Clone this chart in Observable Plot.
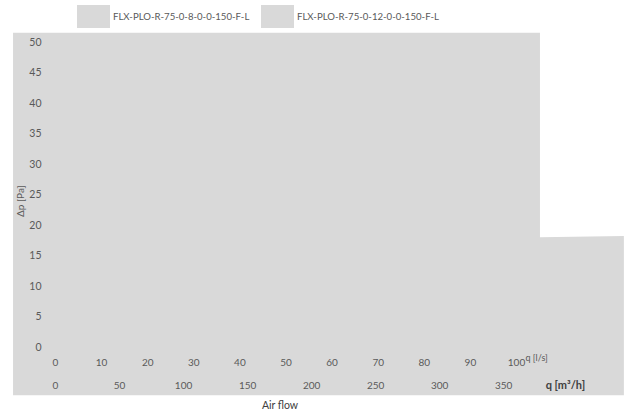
<!DOCTYPE html>
<html>
<head>
<meta charset="utf-8">
<script src="https://cdn.jsdelivr.net/npm/d3@7"></script>
<script src="https://cdn.jsdelivr.net/npm/@observablehq/plot@0.6"></script>
<style>
  html, body { margin: 0; padding: 0; background: #fff; }
  body { width: 624px; height: 417px; overflow: hidden; font-family: Lato, "Open Sans", sans-serif; }
  #legend { position: relative; height: 30px; width: 624px; }
  .item { position: absolute; top: 5px; height: 23px; display: flex; align-items: center; }
  .sw { width: 33px; height: 23px; background: #d9d9d9; }
  .lb { font-size: 9.6px; color: #595959; margin-left: 3px; white-space: nowrap; }
  #chart svg { display: block; }
</style>
</head>
<body>
<div id="legend"></div>
<div id="chart"></div>
<script>
// Series names (legend)
const seriesNames = ["FLX-PLO-R-75-0-8-0-0-150-F-L", "FLX-PLO-R-75-0-12-0-0-150-F-L"];
// Filled grey area as drawn in the reference (x in l/s, y in Pa)
const areaX = [-9.1, 105.2, 105.2, 123.4];
const areaTop = [51.5, 51.5, 18.0, 18.2];
const areaBase = [-7.9, -7.9, -7.9, -7.9];
// Tick labels
const yTicks = [0, 5, 10, 15, 20, 25, 30, 35, 40, 45, 50];
const xTicksLs = [0, 10, 20, 30, 40, 50, 60, 70, 80, 90, 100];
const xTicksM3h = [0, 50, 100, 150, 200, 250, 300, 350];
const xUnitLs = "q [l/s]";
const xUnitM3h = "q [m³/h]";
const xTitle = "Air flow";
const yTitle = "Δp [Pa]";

// Legend
const legendPos = [77, 261];
const legend = document.getElementById("legend");
seriesNames.forEach((name, i) => {
  const it = document.createElement("div");
  it.className = "item";
  it.style.left = legendPos[i] + "px";
  it.innerHTML = `<div class="sw"></div><div class="lb"></div>`;
  it.querySelector(".lb").textContent = name;
  legend.appendChild(it);
});

const areaData = areaX.map((x, i) => ({x, top: areaTop[i], base: areaBase[i]}));
const txt = "#595959";
const fs = 10;

const chart = Plot.plot({
  width: 624,
  height: 387,
  marginLeft: 41,
  marginBottom: 55,
  marginTop: 0,
  marginRight: 0,
  style: {fontFamily: "Lato, 'Open Sans', sans-serif", background: "transparent"},
  x: {domain: [0, 100], range: [55, 516], axis: null},
  y: {domain: [0, 50], range: [317, 12], axis: null},
  marks: [
    Plot.areaY(areaData, {x: "x", y1: "base", y2: "top", fill: "#d9d9d9", curve: "linear"}),
    Plot.axisY(yTicks, {anchor: "left", tickSize: 0, tickPadding: 0, fontSize: 10.5, color: txt}),
    Plot.text(xTicksLs, {x: d => d, frameAnchor: "bottom", text: d => String(d), fontSize: fs, fill: txt, lineAnchor: "middle"}),
    Plot.text([xUnitLs], {x: [100], frameAnchor: "bottom", dx: 9, dy: -4, textAnchor: "start", fontSize: 9, fill: txt, lineAnchor: "middle"}),
    Plot.text(xTicksM3h, {x: d => d / 3.6, frameAnchor: "bottom", dy: 23, text: d => String(d), fontSize: fs, fill: txt, lineAnchor: "middle"}),
    Plot.text([xUnitM3h], {x: [350 / 3.6], frameAnchor: "bottom", dx: 42, dy: 23, text: d => d, fontSize: 11, fontWeight: "bold", fill: "#404040", textAnchor: "start", lineAnchor: "middle"}),
    Plot.text([xTitle], {x: [48.7], frameAnchor: "bottom", dy: 43, text: d => d, fontSize: 10.5, fill: "#404040", lineAnchor: "middle"}),
    Plot.text([yTitle], {y: [21.4], frameAnchor: "left", dx: -21, rotate: -90, text: d => d, fontSize: 10, fill: txt, lineAnchor: "middle"})
  ]
});
document.getElementById("chart").appendChild(chart);
</script>
</body>
</html>
